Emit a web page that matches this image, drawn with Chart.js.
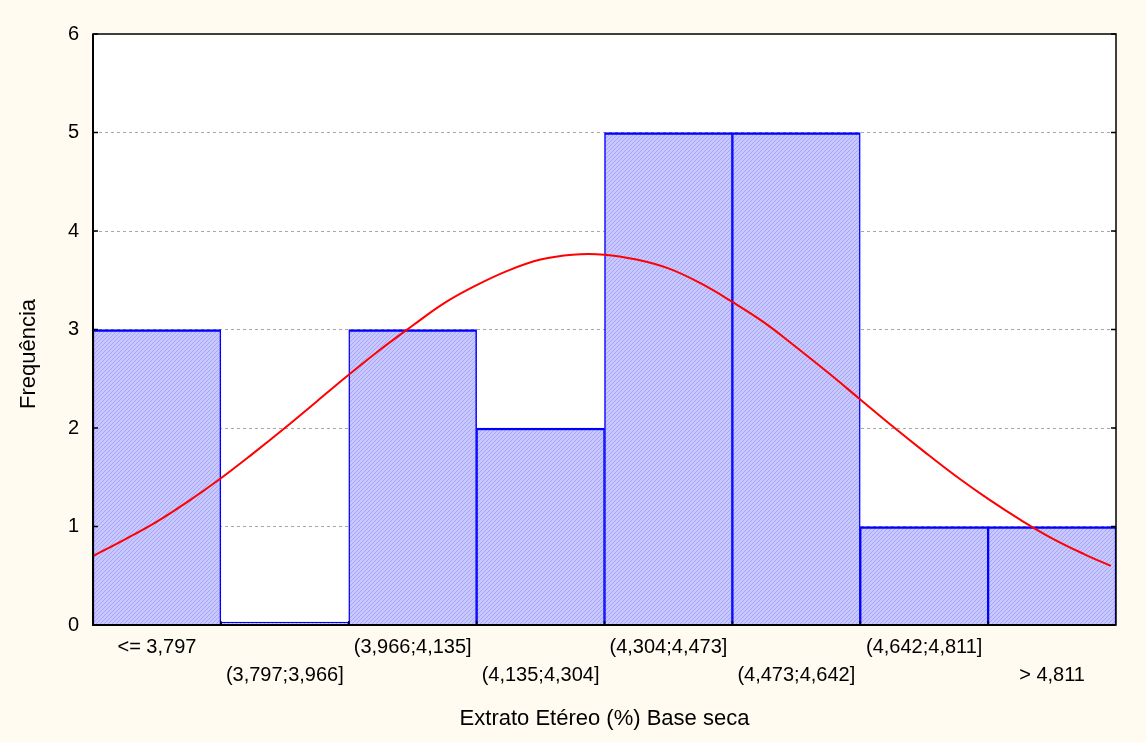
<!DOCTYPE html>
<html>
<head>
<meta charset="utf-8">
<script src="https://cdn.jsdelivr.net/npm/chart.js@4"></script>
<style>
  html, body { margin: 0; padding: 0; background: #fffbf0; }
  #wrap { width: 1146px; height: 742px; }
</style>
</head>
<body>
<div id="wrap"><canvas id="hist" width="1146" height="742"></canvas></div>
<script>
// Histogram bins and counts
const binLabels = ['<= 3,797', '(3,797;3,966]', '(3,966;4,135]', '(4,135;4,304]',
                   '(4,304;4,473]', '(4,473;4,642]', '(4,642;4,811]', '> 4,811'];
const counts = [3, 0, 3, 2, 5, 5, 1, 1];

// Fitted normal curve (x in bin widths from the left edge)
const curveX = [0, 0.25, 0.5, 0.75, 1, 1.25, 1.5, 1.75, 2, 2.25, 2.5, 2.75, 3, 3.25, 3.5, 3.75,
                4, 4.25, 4.5, 4.75, 5, 5.25, 5.5, 5.75, 6, 6.25, 6.5, 6.75, 7, 7.25, 7.5, 7.75, 7.96];
const curveY = [0.70, 0.87, 1.05, 1.26, 1.49, 1.74, 2.00, 2.27, 2.54, 2.80, 3.04, 3.27, 3.45, 3.60, 3.71, 3.76,
                3.76, 3.71, 3.62, 3.47, 3.28, 3.07, 2.82, 2.56, 2.29, 2.02, 1.76, 1.51, 1.28, 1.07, 0.88, 0.72, 0.60];

const yTicks = [0, 1, 2, 3, 4, 5, 6];

// two rows of labels, alternating
const tickLabels = binLabels.map((l, i) => i % 2 === 0 ? [l, ''] : ['', l]);

// hatched fill for the bars
function makeHatch() {
  const c = document.createElement('canvas');
  c.width = 4; c.height = 4;
  const g = c.getContext('2d');
  g.fillStyle = '#c8c8ff';
  g.fillRect(0, 0, 4, 4);
  g.strokeStyle = '#a6a6f6';
  g.lineWidth = 1;
  g.beginPath();
  g.moveTo(0, 4); g.lineTo(4, 0);
  g.moveTo(-1, 1); g.lineTo(1, -1);
  g.moveTo(3, 5); g.lineTo(5, 3);
  g.stroke();
  return g.createPattern(c, 'repeat');
}

const framePlugin = {
  id: 'frame',
  beforeDraw(chart) {
    const {ctx, chartArea: a} = chart;
    ctx.save();
    ctx.fillStyle = '#fffbf0';
    ctx.fillRect(0, 0, chart.width, chart.height);
    ctx.fillStyle = '#ffffff';
    ctx.fillRect(a.left, a.top, a.right - a.left, a.bottom - a.top);
    ctx.restore();
  },
  afterDraw(chart) {
    const {ctx, chartArea: a} = chart;
    const y = chart.scales.y;
    ctx.save();
    ctx.strokeStyle = '#000';
    ctx.lineWidth = 1.5;
    ctx.strokeRect(a.left, a.top, a.right - a.left, a.bottom - a.top);
    ctx.lineWidth = 2;
    ctx.beginPath();
    ctx.moveTo(a.left, a.top); ctx.lineTo(a.left, a.bottom); ctx.lineTo(a.right, a.bottom);
    ctx.stroke();
    // inward tick marks
    ctx.lineWidth = 1.5;
    ctx.beginPath();
    yTicks.forEach(v => {
      const py = y.getPixelForValue(v);
      ctx.moveTo(a.left, py); ctx.lineTo(a.left + 5, py);
      ctx.moveTo(a.right, py); ctx.lineTo(a.right - 5, py);
    });
    const step = (a.right - a.left) / binLabels.length;
    for (let i = 1; i < binLabels.length; i++) {
      const px = a.left + i * step;
      ctx.moveTo(px, a.bottom); ctx.lineTo(px, a.bottom - 4);
    }
    ctx.stroke();
    ctx.restore();
  }
};

const ctx = document.getElementById('hist').getContext('2d');
new Chart(ctx, {
  type: 'bar',
  data: {
    labels: tickLabels,
    datasets: [{
      type: 'line',
      data: curveX.map((x, i) => ({x: x, y: curveY[i]})),
      xAxisID: 'xc',
      borderColor: '#ff0000',
      borderWidth: 2,
      pointRadius: 0,
      tension: 0.4,
      order: 0
    }, {
      type: 'bar',
      data: counts,
      xAxisID: 'x',
      grouped: false,
      backgroundColor: makeHatch(),
      borderColor: '#0000ff',
      borderWidth: {top: 2.5, left: 1.5, right: 1.5, bottom: 0},
      borderSkipped: false,
      minBarLength: 3,
      barPercentage: 1,
      categoryPercentage: 1,
      order: 1
    }]
  },
  options: {
    responsive: false,
    animation: false,
    layout: {padding: {left: 0, right: 30, top: 34, bottom: 0}},
    plugins: {legend: {display: false}, tooltip: {enabled: false}},
    scales: {
      x: {
        type: 'category',
        offset: true,
        grid: {display: false, drawTicks: false},
        border: {display: false},
        ticks: {
          color: '#000',
          font: {family: 'Liberation Sans, Arial', size: 20, lineHeight: 1.4},
          padding: 8,
          maxRotation: 0,
          autoSkip: false
        },
        title: {
          display: true,
          text: 'Extrato Etéreo (%) Base seca',
          color: '#000',
          font: {family: 'Liberation Sans, Arial', size: 22},
          padding: {top: 0, bottom: 10}
        },
        afterFit(s) { s.height = 117; }
      },
      xc: {
        type: 'linear',
        display: false,
        offset: false,
        min: 0,
        max: 8
      },
      y: {
        min: 0,
        max: 6,
        afterBuildTicks(s) { s.ticks = yTicks.map(v => ({value: v})); },
        grid: {
          color: (c) => (c.tick && (c.tick.value === 0 || c.tick.value === 6)) ? 'rgba(0,0,0,0)' : '#a8a8a8',
          lineWidth: 1,
          drawTicks: false
        },
        border: {display: false, dash: [3, 3]},
        ticks: {
          color: '#000',
          font: {family: 'Liberation Sans, Arial', size: 20},
          padding: 14
        },
        title: {
          display: true,
          text: 'Frequência        ',
          color: '#000',
          font: {family: 'Liberation Sans, Arial', size: 22},
          padding: {top: 16, bottom: 0}
        },
        afterFit(s) { s.width = 93; }
      }
    }
  },
  plugins: [framePlugin]
});
</script>
</body>
</html>
